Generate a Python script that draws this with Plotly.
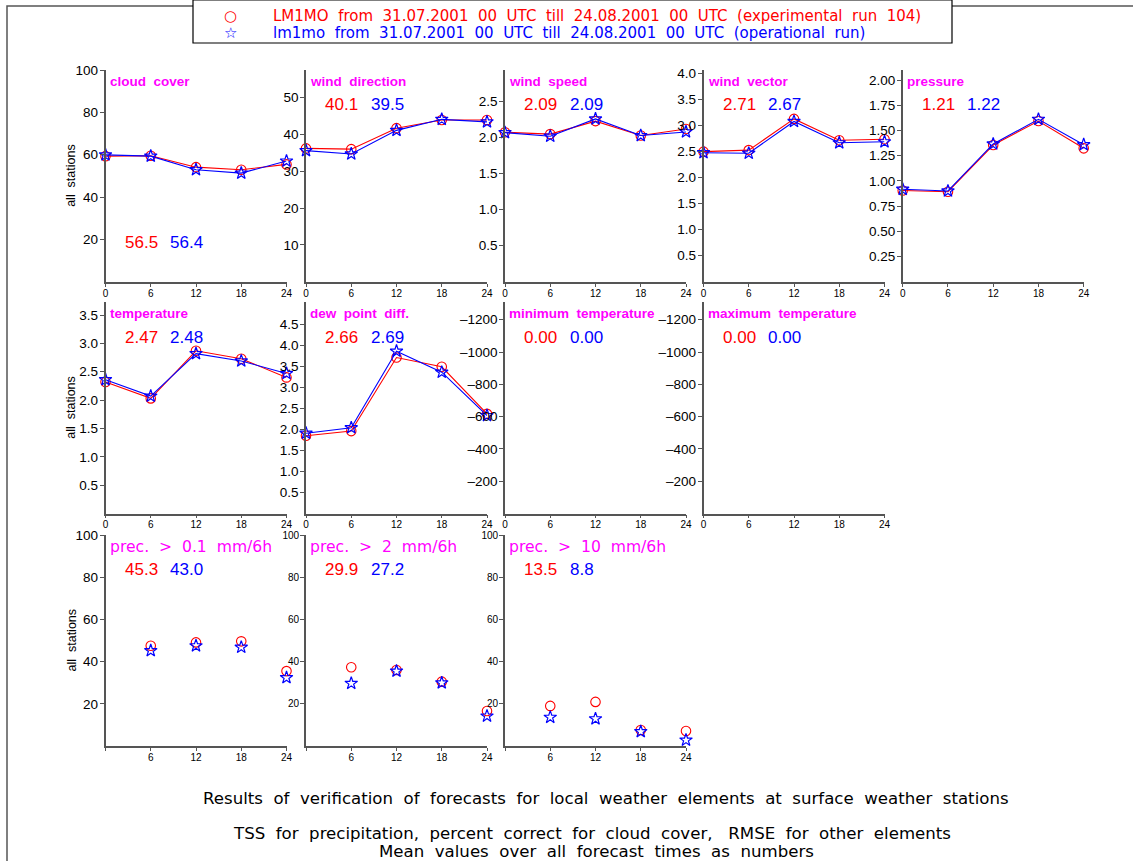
import plotly.graph_objects as go

# ---- data -------------------------------------------------------------
hours = [0, 6, 12, 18, 24]
prec_hours = [6, 12, 18, 24]

cloud_exp = [59.3, 59.5, 54.1, 52.9, 55.4]
cloud_ope = [59.9, 59.3, 52.9, 51.3, 57.0]
cloud_mean = ["56.5", "56.4"]

wdir_exp = [36.2, 36.0, 41.7, 43.9, 43.9]
wdir_ope = [35.6, 34.7, 41.1, 44.1, 43.4]
wdir_mean = ["40.1", "39.5"]

wspd_exp = [2.075, 2.05, 2.23, 2.03, 2.12]
wspd_ope = [2.07, 2.02, 2.26, 2.03, 2.08]
wspd_mean = ["2.09", "2.09"]

wvec_exp = [2.50, 2.53, 3.13, 2.72, 2.74]
wvec_ope = [2.48, 2.47, 3.08, 2.67, 2.69]
wvec_mean = ["2.71", "2.67"]

pres_exp = [0.904, 0.893, 1.356, 1.594, 1.323]
pres_ope = [0.917, 0.900, 1.366, 1.611, 1.359]
pres_mean = ["1.21", "1.22"]

temp_exp = [2.32, 2.03, 2.87, 2.73, 2.40]
temp_ope = [2.36, 2.07, 2.82, 2.69, 2.47]
temp_mean = ["2.47", "2.48"]

dewp_exp = [1.85, 1.96, 3.71, 3.49, 2.37]
dewp_ope = [1.91, 2.04, 3.86, 3.36, 2.33]
dewp_mean = ["2.66", "2.69"]

tmin_mean = ["0.00", "0.00"]
tmax_mean = ["0.00", "0.00"]

p01_exp = [47.5, 49.1, 49.6, 35.5]
p01_ope = [45.2, 47.5, 46.8, 32.4]
p01_mean = ["45.3", "43.0"]

p2_exp = [37.3, 36.0, 30.5, 16.6]
p2_ope = [29.7, 35.5, 29.9, 14.2]
p2_mean = ["29.9", "27.2"]

p10_exp = [19.0, 20.9, 7.6, 7.1]
p10_ope = [13.6, 12.9, 6.8, 2.8]
p10_mean = ["13.5", "8.8"]

ticks_pct = [20, 40, 60, 80, 100]
ticks_wdir = [10, 20, 30, 40, 50]
ticks_wspd = [0.5, 1.0, 1.5, 2.0, 2.5]
ticks_wvec = [0.5, 1.0, 1.5, 2.0, 2.5, 3.0, 3.5, 4.0]
ticks_pres = [0.25, 0.5, 0.75, 1.0, 1.25, 1.5, 1.75, 2.0]
ticks_temp = [0.5, 1.0, 1.5, 2.0, 2.5, 3.0, 3.5]
ticks_dewp = [0.5, 1.0, 1.5, 2.0, 2.5, 3.0, 3.5, 4.0, 4.5]
ticks_tx = [-200, -400, -600, -800, -1000, -1200]

legend_exp = "LM1MO  from  31.07.2001  00  UTC  till  24.08.2001  00  UTC  (experimental  run  104)"
legend_ope = "lm1mo  from  31.07.2001  00  UTC  till  24.08.2001  00  UTC  (operational  run)"
footer_1 = "Results  of  verification  of  forecasts  for  local  weather  elements  at  surface  weather  stations"
footer_2 = "TSS  for  precipitation,  percent  correct  for  cloud  cover,   RMSE  for  other  elements"
footer_3 = "Mean  values  over  all  forecast  times  as  numbers"

# ---- layout helpers ---------------------------------------------------
W, H = 1133, 861
FONT = "Liberation Sans, Arial, sans-serif"
WIDE = "DejaVu Sans, Verdana, sans-serif"
RED, BLUE, MAG = "#ff0000", "#0000ff", "#ff00ff"
AXC = "#555555"

col_x = [105.5, 306, 505, 703.5, 902.7]
col_w = 181
rows = [(70, 281.7), (302, 513.5), (535, 746)]
title_dy = [81, 313, 547]
num_dy = [104, 337, 569]


def spaced(s):
    # keep the double blanks visible in SVG text
    return s.replace("  ", "\u00a0 ")


def fmt(v, nd):
    return f"{v:.{nd}f}"


fig = go.Figure()
annotations = []
shapes = []

panels = [
    # (title, row, col, x, exp, ope, mean, yrange, yticks, decimals, tick font size, bold title)
    ("cloud  cover", 0, 0, hours, cloud_exp, cloud_ope, cloud_mean, [0, 100], ticks_pct, 0, 13.5, True),
    ("wind  direction", 0, 1, hours, wdir_exp, wdir_ope, wdir_mean, [0, 57.5], ticks_wdir, 0, 13.5, True),
    ("wind  speed", 0, 2, hours, wspd_exp, wspd_ope, wspd_mean, [0, 2.94], ticks_wspd, 1, 13.5, True),
    ("wind  vector", 0, 3, hours, wvec_exp, wvec_ope, wvec_mean, [0, 4.07], ticks_wvec, 1, 13.5, True),
    ("pressure", 0, 4, hours, pres_exp, pres_ope, pres_mean, [0, 2.10], ticks_pres, 2, 13.5, True),
    ("temperature", 1, 0, hours, temp_exp, temp_ope, temp_mean, [0, 3.73], ticks_temp, 1, 13.5, True),
    ("dew  point  diff.", 1, 1, hours, dewp_exp, dewp_ope, dewp_mean, [0, 5.03], ticks_dewp, 1, 13.5, True),
    ("minimum  temperature", 1, 2, hours, [], [], tmin_mean, [0, -1310], ticks_tx, 0, 13.5, True),
    ("maximum  temperature", 1, 3, hours, [], [], tmax_mean, [0, -1310], ticks_tx, 0, 13.5, True),
    ("prec.  >  0.1  mm/6h", 2, 0, prec_hours, p01_exp, p01_ope, p01_mean, [0, 100], ticks_pct, 0, 13.5, False),
    ("prec.  >  2  mm/6h", 2, 1, prec_hours, p2_exp, p2_ope, p2_mean, [0, 100], ticks_pct, 0, 10, False),
    ("prec.  >  10  mm/6h", 2, 2, prec_hours, p10_exp, p10_ope, p10_mean, [0, 100], ticks_pct, 0, 10, False),
]

for i, (title, r, c, xs, ye, yo, mean, yr, yt, nd, tfs, bold) in enumerate(panels, start=1):
    x0 = col_x[c]
    top, bot = rows[r]
    xa = "x" if i == 1 else f"x{i}"
    ya = "y" if i == 1 else f"y{i}"
    xkey = "xaxis" if i == 1 else f"xaxis{i}"
    ykey = "yaxis" if i == 1 else f"yaxis{i}"

    if r == 2:
        xtv, xtt = [0] + prec_hours, [""] + [str(h) for h in prec_hours]
    else:
        xtv, xtt = hours, [str(h) for h in hours]

    fig.layout[xkey] = dict(
        domain=[x0 / W, (x0 + col_w) / W], anchor=ya, range=[0, 24], automargin=False,
        showgrid=False, zeroline=False, showline=True, linecolor=AXC, linewidth=1.6,
        ticks="outside", ticklen=3, tickwidth=1.2, tickcolor=AXC, ticklabelstandoff=-2,
        tickmode="array", tickvals=xtv, ticktext=xtt,
        tickfont=dict(family=FONT, size=10, color="black"), fixedrange=True,
    )
    if yr[1] < 0:
        ytt = ["\u2013" + str(-v) for v in yt]
    else:
        ytt = [fmt(v, nd) for v in yt]
    fig.layout[ykey] = dict(
        domain=[1 - bot / H, 1 - top / H], anchor=xa, range=yr, automargin=False,
        showgrid=False, zeroline=False, showline=True, linecolor=AXC, linewidth=1.6,
        ticks="outside", ticklen=4, tickwidth=1.2, tickcolor=AXC, ticklabelstandoff=-1,
        tickmode="array", tickvals=yt, ticktext=ytt,
        tickfont=dict(family=FONT, size=tfs, color="black"), fixedrange=True,
    )

    mode = "lines+markers" if r < 2 else "markers"
    fig.add_trace(go.Scatter(
        x=xs if ye else [], y=ye, xaxis=xa, yaxis=ya, mode=mode, cliponaxis=False,
        line=dict(color=RED, width=1.1),
        marker=dict(symbol="circle-open", size=9.5, color=RED, line=dict(width=1.1)),
        showlegend=False, hoverinfo="skip",
    ))
    fig.add_trace(go.Scatter(
        x=xs if yo else [], y=yo, xaxis=xa, yaxis=ya, mode=mode, cliponaxis=False,
        line=dict(color=BLUE, width=1.1),
        marker=dict(symbol="star-open", size=9.5, color=BLUE, line=dict(width=1.2)),
        showlegend=False, hoverinfo="skip",
    ))

    ttxt = spaced(title)
    if bold:
        tfont = dict(family=FONT, size=13.5, color=MAG)
        ttxt = f"<b>{ttxt}</b>"
    else:
        tfont = dict(family=WIDE, size=15.6, color=MAG)
    annotations.append(dict(
        x=(x0 + 2) / W, y=1 - title_dy[r] / H, xref="paper", yref="paper",
        text=ttxt, showarrow=False, xanchor="left", yanchor="middle", font=tfont,
    ))
    ny = 242 if title == "cloud  cover" else num_dy[r]
    annotations.append(dict(
        x=(x0 + 17) / W, y=1 - ny / H, xref="paper", yref="paper",
        text=mean[0], showarrow=False, xanchor="left", yanchor="middle",
        font=dict(family=FONT, size=17, color=RED),
    ))
    annotations.append(dict(
        x=(x0 + 62.5) / W, y=1 - ny / H, xref="paper", yref="paper",
        text=mean[1], showarrow=False, xanchor="left", yanchor="middle",
        font=dict(family=FONT, size=17, color=BLUE),
    ))

# y-axis caption on the first column
for top, bot in rows:
    annotations.append(dict(
        x=71 / W, y=1 - (top + bot) / 2 / H, xref="paper", yref="paper",
        text=spaced("all  stations"), showarrow=False, textangle=-90,
        xanchor="center", yanchor="middle",
        font=dict(family=FONT, size=12.5, color="black"),
    ))

# outer frame and legend box
shapes.append(dict(type="rect", xref="paper", yref="paper",
                   x0=7 / W, x1=1.01, y0=-0.01, y1=1 - 6 / H,
                   line=dict(color=AXC, width=1.5), fillcolor="rgba(0,0,0,0)", layer="below"))
shapes.append(dict(type="rect", xref="paper", yref="paper",
                   x0=193 / W, x1=952 / W, y0=1 - 43 / H, y1=1.0,
                   line=dict(color="black", width=1.2), fillcolor="white", layer="below"))

for sym, col, yc in [("\u25cb", RED, 16), ("\u2606", BLUE, 33)]:
    annotations.append(dict(x=230 / W, y=1 - yc / H, xref="paper", yref="paper", showarrow=False,
                            xanchor="center", yanchor="middle", text=sym,
                            font=dict(family="DejaVu Sans", size=15, color=col)))

for txt, col, yc in [(legend_exp, RED, 16), (legend_ope, BLUE, 33)]:
    annotations.append(dict(x=271 / W, y=1 - yc / H, xref="paper", yref="paper", showarrow=False,
                            xanchor="left", yanchor="middle", text=spaced(txt),
                            font=dict(family=WIDE, size=15, color=col)))

for txt, xc, yc in [(footer_1, 606, 798), (footer_2, 592, 833), (footer_3, 596, 851)]:
    annotations.append(dict(x=xc / W, y=1 - yc / H, xref="paper", yref="paper", showarrow=False,
                            xanchor="center", yanchor="middle", text=spaced(txt),
                            font=dict(family=WIDE, size=16.6, color="black")))

fig.update_layout(
    template="none",
    width=W, height=H, margin=dict(l=0, r=0, t=0, b=0, pad=0, autoexpand=False),
    paper_bgcolor="white", plot_bgcolor="white",
    showlegend=False, annotations=annotations, shapes=shapes,
)

fig.write_html("out.html")
